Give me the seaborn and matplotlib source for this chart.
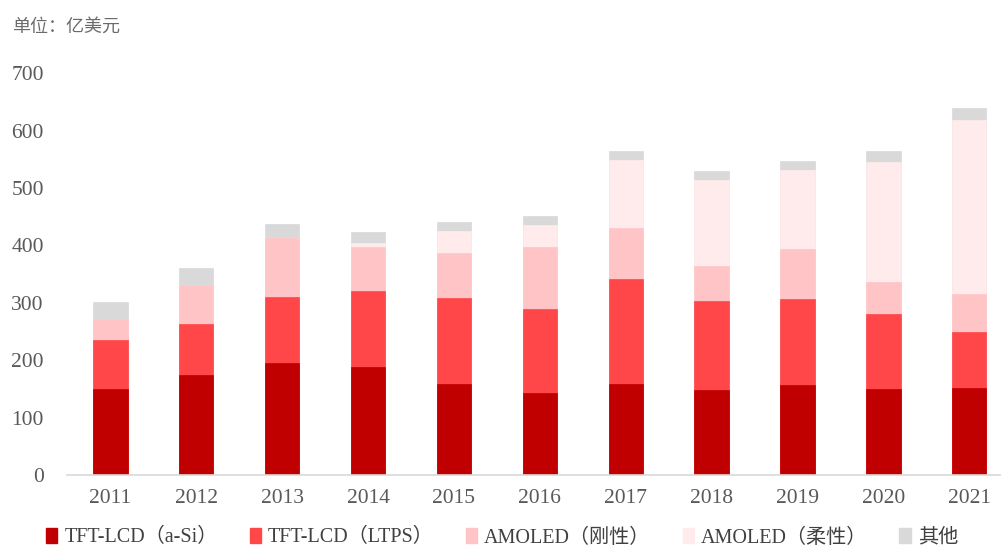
import matplotlib
matplotlib.use("Agg")
import matplotlib.pyplot as plt
import seaborn as sns
import pandas as pd
import numpy as np
from matplotlib.patches import Patch

years = ["2011", "2012", "2013", "2014", "2015", "2016", "2017", "2018", "2019", "2020", "2021"]
a_si = [150, 174, 196, 188, 158, 143, 158, 149, 156, 150, 151]
ltps = [85, 89, 114, 133, 151, 147, 184, 155, 151, 131, 98]
rigid = [37, 68, 103, 76, 78, 107, 89, 61, 87, 56, 67]
flex = [0, 0, 0, 7, 38, 39, 118, 149, 137, 209, 302]
other = [30, 30, 24, 19, 16, 15, 15, 16, 17, 18, 22]
series_names = ["TFT-LCD（a-Si）", "TFT-LCD（LTPS）", "AMOLED（刚性）", "AMOLED（柔性）", "其他"]
colors = ["#C00000", "#FF474A", "#FFC5C6", "#FFEBEC", "#D9D9D9"]

sns.set_theme(style="white")
fam = ["Liberation Serif", "Noto Sans CJK SC", "DejaVu Sans"]
plt.rcParams["font.family"] = fam

df = pd.DataFrame({"year": years, "a": a_si, "b": ltps, "c": rigid, "d": flex, "e": other})
layers = [df["a"], df["b"], df["c"], df["d"], df["e"]]
cum = np.cumsum(np.array(layers, dtype=float), axis=0)

fig = plt.figure(figsize=(10.01, 5.47), dpi=100)
ax = fig.add_axes([0.0674, 0.1316, 0.9326, 0.7344])

for i in range(len(layers) - 1, -1, -1):
    d = pd.DataFrame({"year": years, "v": cum[i]})
    sns.barplot(data=d, x="year", y="v", color=colors[i], width=0.4,
                saturation=1, ax=ax, edgecolor=colors[i], linewidth=0.5)

ax.set_ylim(0, 700)
ax.set_xlim(-0.5, 10.37)
ax.set_yticks(range(0, 701, 100))
ax.set_xlabel("")
ax.set_ylabel("")
for s in ["top", "right", "left"]:
    ax.spines[s].set_visible(False)
ax.spines["bottom"].set_color("#D9D9D9")
ax.spines["bottom"].set_linewidth(1.2)
ax.tick_params(axis="both", length=0, labelsize=15.5, colors="#595959")
ax.tick_params(axis="y", pad=17)
ax.tick_params(axis="x", pad=10)
for lab in ax.get_xticklabels() + ax.get_yticklabels():
    lab.set_family(fam)
ax.grid(False)

fig.text(0.012, 0.952, "单位：亿美元", fontsize=13, color="#6a6a6a",
         family=["Noto Sans CJK SC", "DejaVu Sans"], va="center", ha="left")

handles = [Patch(facecolor=c, edgecolor=c) for c in colors]
leg = fig.legend(handles, series_names, loc="center left", bbox_to_anchor=(0.038, 0.017),
                 ncol=5, frameon=False, fontsize=14.5, handlelength=0.55, handleheight=0.8,
                 handletextpad=0.35, columnspacing=1.6, borderaxespad=0)
for t in leg.get_texts():
    t.set_color("#404040")
    t.set_family(fam)

fig.savefig("out.png", dpi=100)
